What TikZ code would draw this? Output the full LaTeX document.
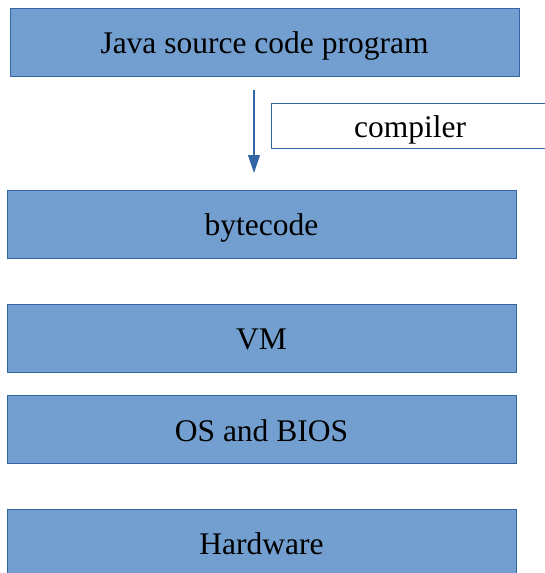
\documentclass[tikz,border=0pt]{standalone}
\usepackage{fontspec}
\setmainfont{Liberation Serif}
\usetikzlibrary{arrows.meta}
\definecolor{boxfill}{HTML}{729FCF}
\definecolor{boxline}{HTML}{3465A4}
\begin{document}
\begin{tikzpicture}[x=1pt,y=-1pt,
  layer/.style={draw=boxline, line width=0.8pt, fill=boxfill, minimum width=509pt, minimum height=68pt, inner sep=0pt, text height=23pt, text depth=0pt, font=\fontsize{31.5}{34}\selectfont\rmfamily},
  label box/.style={draw=boxline, line width=0.8pt, fill=white, minimum width=278pt, minimum height=45pt, inner sep=0pt, text height=23pt, text depth=0pt, font=\fontsize{31.5}{34}\selectfont\rmfamily},
  flow/.style={draw=boxline, line width=1.2pt, -{Triangle[length=18pt,width=12pt]}}]
\useasboundingbox (0,0) rectangle (545,573);
\clip (0,0) rectangle (545,573);
\node[layer] (jsrc) at (264.5,42) {Java source code program};
\node[label box] (comp) at (410,125.5) {compiler};
\node[layer] (bc) at (261.5,224) {bytecode};
\node[layer] (vm) at (261.5,338) {VM};
\node[layer] (os) at (261.5,429.5) {OS and BIOS};
\node[layer] (hw) at (261.5,543) {Hardware};
\coordinate (astart) at (254,90);
\coordinate (aend) at (254,173);
\draw[flow] (astart) -- (aend);
\end{tikzpicture}
\end{document}
